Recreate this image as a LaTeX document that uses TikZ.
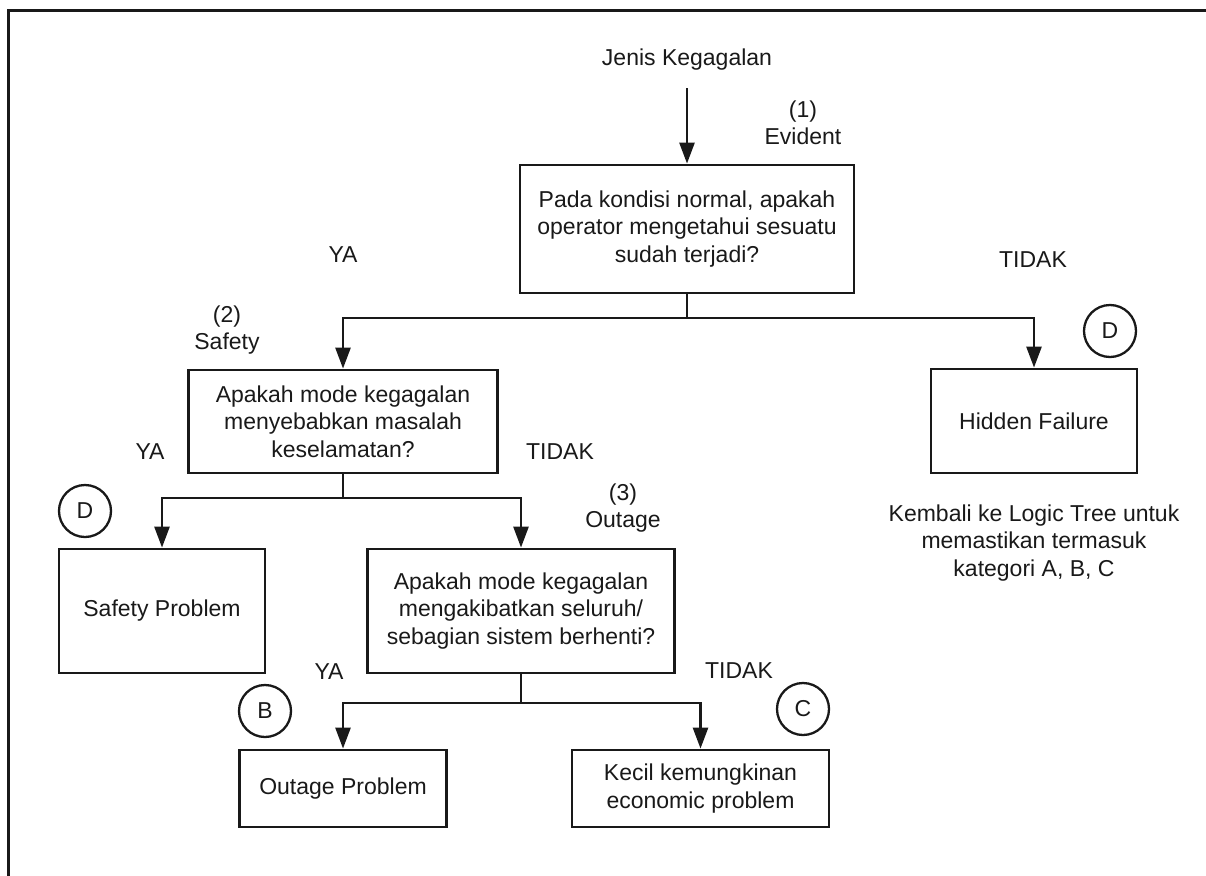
\documentclass[tikz,border=0pt]{standalone}
\usepackage{fontspec}
\setmainfont{Liberation Sans}
\usetikzlibrary{arrows.meta}
\tikzset{
  boxsty/.style={draw, line width=2.8pt, align=center, inner sep=0pt},
  circsty/.style={draw, circle, line width=2.3pt, minimum size=52pt, inner sep=0pt},
  lbl/.style={align=center, inner sep=0pt},
  conn/.style={line width=2.6pt},
  arr/.style={line width=2.6pt, -{Triangle[length=21pt,width=15pt]}},
}
\begin{document}
\begin{tikzpicture}[x=1pt, y=-1pt, font=\fontsize{23pt}{27.5pt}\selectfont, color=black!90]
\useasboundingbox (0,0) rectangle (1206,875);
\clip (0,0) rectangle (1206,875);
% frame
\draw[line width=3pt] (1230,11) -- (8,11) -- (8,900);

% nodes
\node[lbl] (title) at (687,60) {Jenis Kegagalan};
\coordinate (s0) at (687,88);
\node[lbl] (ev) at (803,123) {(1)\\Evident};
\node[boxsty, minimum width=334pt, minimum height=128pt] (b1) at (687,229)
  {Pada kondisi normal, apakah\\operator mengetahui sesuatu\\sudah terjadi?};
\node[lbl] (ya1) at (343,255) {YA};
\node[lbl] (td1) at (1033,260) {TIDAK};

\node[lbl] (sf) at (227,330) {(2)\\Safety};
\node[boxsty, minimum width=309pt, minimum height=103pt] (b2) at (343,421.5)
  {Apakah mode kegagalan\\menyebabkan masalah\\keselamatan?};
\node[boxsty, minimum width=206pt, minimum height=104pt] (hid) at (1034,421)
  {Hidden Failure};
\node[circsty] (cd1) at (1110,331) {D};
\node[lbl] (kem) at (1034,543) {Kembali ke Logic Tree untuk\\memastikan termasuk\\kategori A, B, C};

\node[lbl] (ya2) at (150,452) {YA};
\node[lbl] (td2) at (560,452) {TIDAK};
\node[circsty] (cd2) at (85,511) {D};
\node[lbl] (og) at (623,508) {(3)\\Outage};

\node[boxsty, minimum width=206pt, minimum height=124pt] (sp) at (162,611)
  {Safety Problem};
\node[boxsty, minimum width=307pt, minimum height=124pt] (b3) at (521,611)
  {Apakah mode kegagalan\\mengakibatkan seluruh/\\sebagian sistem berhenti?};

\node[lbl] (ya3) at (329,672) {YA};
\node[lbl] (td3) at (739,671) {TIDAK};
\node[circsty] (cb) at (265,711) {B};
\node[circsty] (cc) at (803,709) {C};

\node[boxsty, minimum width=207pt, minimum height=77pt] (op) at (343,788.5)
  {Outage Problem};
\node[boxsty, minimum width=257pt, minimum height=77pt] (ec) at (700.5,788.5)
  {Kecil kemungkinan\\economic problem};

% connectors
\draw[arr] (s0) -- (b1.north);
\coordinate (j1) at (687,318);
\draw[conn] (b1.south) -- (j1);
\draw[arr] (j1) -| (b2.north);
\draw[arr] (j1) -| (hid.north);

\coordinate (j2) at (343,498);
\draw[conn] (b2.south) -- (j2);
\draw[arr] (j2) -| (sp.north);
\draw[arr] (j2) -| (b3.north);

\coordinate (j3) at (521,703);
\draw[conn] (b3.south) -- (j3);
\draw[arr] (j3) -| (op.north);
\draw[arr] (j3) -| (ec.north);
\end{tikzpicture}
\end{document}
